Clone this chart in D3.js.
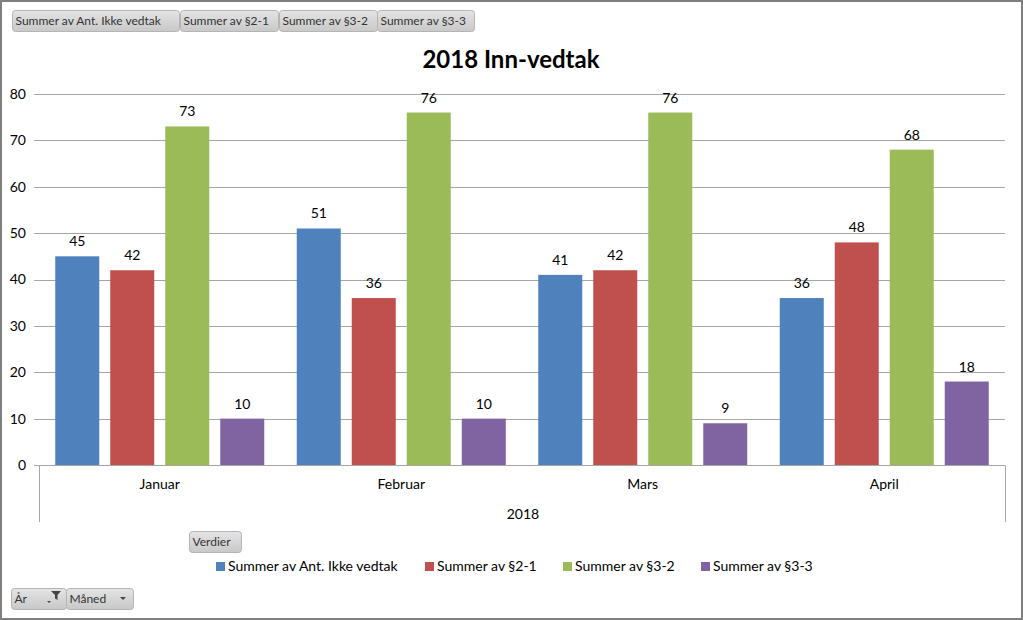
<!DOCTYPE html>
<html><head><meta charset="utf-8">
<script src="https://cdn.jsdelivr.net/npm/d3@7"></script>
<style>
body{margin:0;background:#fff;}
svg{display:block;font-family:Lato,"Open Sans",sans-serif;}
</style></head>
<body><svg id="c" width="1023" height="620"></svg>
<script>
const months = ["Januar","Februar","Mars","April"];
const seriesNames = ["Summer av Ant. Ikke vedtak","Summer av §2-1","Summer av §3-2","Summer av §3-3"];
const ikkeVedtak = [45,51,41,36];
const s21 = [42,36,42,48];
const s32 = [73,76,76,68];
const s33 = [10,10,9,18];
const yTicks = [0,10,20,30,40,50,60,70,80];
const colors = ["#4F81BD","#C0504D","#9BBB59","#8064A2"];
const year = "2018";
const title = "2018 Inn-vedtak";

(function(){
const allSeries = [ikkeVedtak,s21,s32,s33];
const svg = d3.select("#c");
const W=1023,H=620;
const pL=39,pR=1005,pT=94,pB=465;

svg.append("rect").attr("x",1).attr("y",1).attr("width",W-2).attr("height",H-2).attr("fill","#fff").attr("stroke","#7f7f7f").attr("stroke-width",2);

const defs=svg.append("defs");
const g=defs.append("linearGradient").attr("id","btn").attr("x1",0).attr("y1",0).attr("x2",0).attr("y2",1);
g.append("stop").attr("offset","0%").attr("stop-color","#e4e4e4");
g.append("stop").attr("offset","100%").attr("stop-color","#c8c8c8");

function button(x,y,w,h,label){
  svg.append("rect").attr("x",x).attr("y",y).attr("width",w).attr("height",h).attr("rx",3)
    .attr("fill","url(#btn)").attr("stroke","#b5b5b5").attr("stroke-width",1);
  svg.append("text").attr("x",x+3).attr("y",y+h/2+4).attr("font-size",12).attr("fill","#333").text(label);
}
button(12.5,10.5,167,21,seriesNames[0]);
button(180.5,10.5,98,21,seriesNames[1]);
button(279.5,10.5,98,21,seriesNames[2]);
button(377.5,10.5,97,21,seriesNames[3]);
button(189.5,531.5,52,21,"Verdier");
button(11.5,588.5,55,21,"År");
button(66.5,588.5,67,21,"Måned");
svg.append("path").attr("d","M51,591 L61,591 L57.5,595 L57.5,600 L55,598.5 L55,595 Z").attr("fill","#444");
svg.append("path").attr("d","M47,601 L51,601 L49,603 Z").attr("fill","#444");
svg.append("path").attr("d","M120,597 L126,597 L123,600 Z").attr("fill","#444");

svg.append("text").attr("x",511).attr("y",68).attr("text-anchor","middle").attr("font-size",24)
  .attr("font-weight","bold").attr("fill","#000").text(title);

const y=d3.scaleLinear().domain([0,80]).range([pB,pT]);
const x0=d3.scaleBand().domain(months).range([pL,pR]).paddingInner(0).paddingOuter(0);
const x1=d3.scaleBand().domain(d3.range(4)).range([16.25,x0.bandwidth()-16.25]).paddingInner(0.2).paddingOuter(0);

const yAxis=d3.axisLeft(y).tickValues(yTicks).tickSize(-(pR-pL)).tickFormat(d3.format("d"));
const ga=svg.append("g").attr("transform",`translate(${pL},0)`).call(yAxis);
ga.select(".domain").remove();
ga.selectAll(".tick line").attr("stroke","#a6a6a6").attr("x1",-5).attr("shape-rendering","crispEdges");
ga.selectAll(".tick text").attr("font-size",14).attr("fill","#000").attr("font-family","Lato, 'Open Sans', sans-serif").attr("x",-13).attr("text-anchor","end");

months.forEach((m,i)=>{
  const gg=svg.append("g").attr("transform",`translate(${x0(m)},0)`);
  allSeries.forEach((s,k)=>{
    gg.append("rect").attr("x",x1(k)).attr("y",y(s[i])).attr("width",x1.bandwidth()).attr("height",y(0)-y(s[i])).attr("fill",colors[k]);
    gg.append("text").attr("x",x1(k)+x1.bandwidth()/2).attr("y",y(s[i])-10).attr("text-anchor","middle")
      .attr("font-size",14).attr("fill","#000").text(s[i]);
  });
});

svg.append("path").attr("d",`M${pL+0.5},522 L${pL+0.5},${pB+0.5} L${pR+0.5},${pB+0.5} L${pR+0.5},522`)
  .attr("fill","none").attr("stroke","#a6a6a6").attr("stroke-width",1);
months.forEach(m=>{
  svg.append("text").attr("x",x0(m)+x0.bandwidth()/2).attr("y",489).attr("text-anchor","middle").attr("font-size",14).attr("fill","#000").text(m);
});
svg.append("text").attr("x",(pL+pR)/2+1).attr("y",519).attr("text-anchor","middle").attr("font-size",14).attr("fill","#000").text(year);

const legX=[216,425,563,701];
seriesNames.forEach((n,k)=>{
  svg.append("rect").attr("x",legX[k]).attr("y",562).attr("width",9).attr("height",9).attr("fill",colors[k]);
  svg.append("text").attr("x",legX[k]+12).attr("y",571).attr("font-size",14).attr("fill","#000").text(n);
});
})();
</script></body></html>
